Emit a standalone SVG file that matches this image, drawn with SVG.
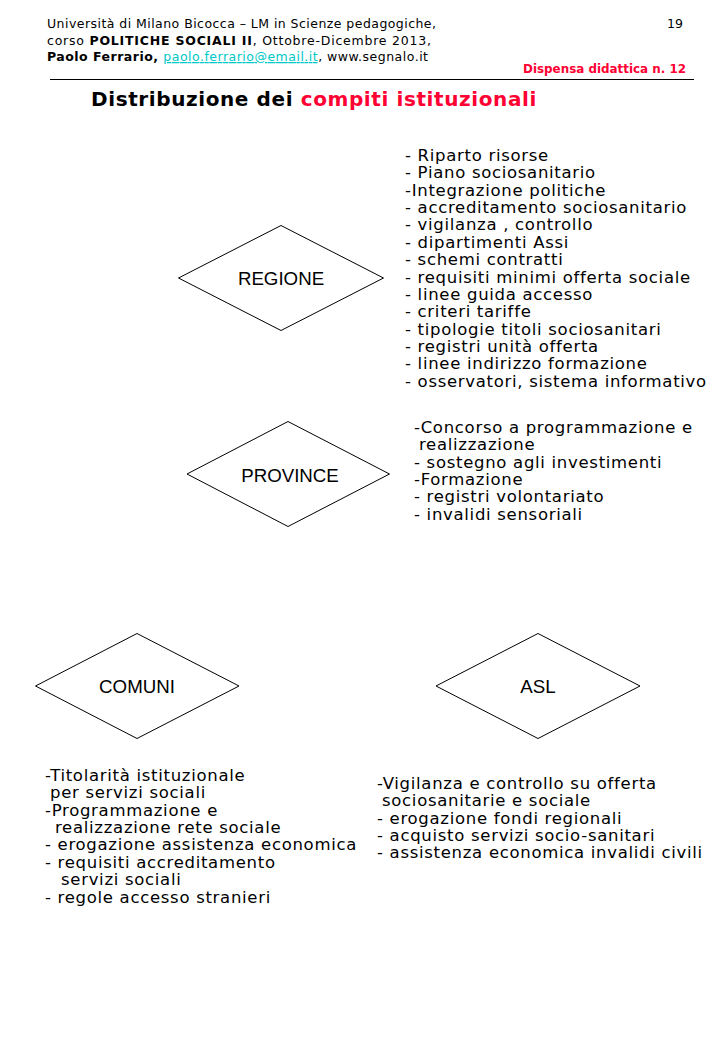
<svg xmlns="http://www.w3.org/2000/svg" width="720" height="1040" viewBox="0 0 720 1040">
<style>
.hd{font-family:"DejaVu Sans",Verdana,sans-serif;font-size:12.5px;fill:#000}
.b{font-weight:bold}
.red{fill:#ff0033}
.lnk{fill:#00c8c8;text-decoration:underline}
.ttl{font-family:"DejaVu Sans",Verdana,sans-serif;font-size:20px;font-weight:bold;fill:#000;letter-spacing:0.6px}
.lst{font-family:"DejaVu Sans",Verdana,sans-serif;font-size:16.5px;fill:#000;letter-spacing:0.7px}
.dm{fill:#fff;stroke:#000;stroke-width:1}
.lbl{font-family:"Liberation Sans",Arial,sans-serif;font-size:18.7px;fill:#000;text-anchor:middle}
</style>
<rect width="720" height="1040" fill="#fff"/>
<g id="header">
<text class="hd" x="47" y="28" textLength="389" lengthAdjust="spacing">Università di Milano Bicocca – LM in Scienze pedagogiche,</text>
<text class="hd" x="47" y="45" textLength="384" lengthAdjust="spacing">corso <tspan class="b">POLITICHE SOCIALI II</tspan>, Ottobre-Dicembre 2013,</text>
<text class="hd" x="47" y="61" textLength="381" lengthAdjust="spacing"><tspan class="b">Paolo Ferrario, </tspan><tspan class="lnk">paolo.ferrario@email.it</tspan>, www.segnalo.it</text>
<text class="hd" x="683" y="28" text-anchor="end">19</text>
<text class="hd b red" x="523" y="73" textLength="163" lengthAdjust="spacingAndGlyphs">Dispensa didattica n. 12</text>
<line x1="50" y1="79.5" x2="694" y2="79.5" stroke="#000" stroke-width="1.2"/>
</g>
<text class="ttl" x="91" y="106">Distribuzione dei <tspan class="red">compiti istituzionali</tspan></text>
<g id="connectors"></g>
<g id="regione">
<polygon class="dm" points="178.5,278 281,225.5 383.5,278 281,330.5"/>
<text class="lbl" x="281" y="285">REGIONE</text>
</g>
<g id="regione-list" class="lst">
<text x="405" y="161">- Riparto risorse</text>
<text x="405" y="178.4">- Piano sociosanitario</text>
<text x="405" y="195.7">-Integrazione politiche</text>
<text x="405" y="213.1">- accreditamento sociosanitario</text>
<text x="405" y="230.4">- vigilanza , controllo</text>
<text x="405" y="247.8">- dipartimenti Assi</text>
<text x="405" y="265.1">- schemi contratti</text>
<text x="405" y="282.5">- requisiti minimi offerta sociale</text>
<text x="405" y="299.8">- linee guida accesso</text>
<text x="405" y="317.2">- criteri tariffe</text>
<text x="405" y="334.5">- tipologie titoli sociosanitari</text>
<text x="405" y="351.9">- registri unità offerta</text>
<text x="405" y="369.2">- linee indirizzo formazione</text>
<text x="405" y="386.6">- osservatori, sistema informativo</text>
</g>
<g id="province">
<polygon class="dm" points="187,474 288,421.5 389.5,474 288,526.5"/>
<text class="lbl" x="290" y="482">PROVINCE</text>
</g>
<g id="province-list" class="lst">
<text x="414" y="433">-Concorso a programmazione e</text>
<text x="419" y="450.4">realizzazione</text>
<text x="414" y="467.7">- sostegno agli investimenti</text>
<text x="414" y="485.1">-Formazione</text>
<text x="414" y="502.4">- registri volontariato</text>
<text x="414" y="519.8">- invalidi sensoriali</text>
</g>
<g id="comuni">
<polygon class="dm" points="35.5,686 137,633.5 239,686 137,738.5"/>
<text class="lbl" x="137" y="693">COMUNI</text>
</g>
<g id="comuni-list" class="lst">
<text x="45" y="781">-Titolarità istituzionale</text>
<text x="50" y="798.4">per servizi sociali</text>
<text x="45" y="815.7">-Programmazione e</text>
<text x="55" y="833.1">realizzazione rete sociale</text>
<text x="45" y="850.4">- erogazione assistenza economica</text>
<text x="45" y="867.8">- requisiti accreditamento</text>
<text x="61" y="885.1">servizi sociali</text>
<text x="45" y="902.5">- regole accesso stranieri</text>
</g>
<g id="asl">
<polygon class="dm" points="436,686 538,633.5 640,686 538,738.5"/>
<text class="lbl" x="538" y="693">ASL</text>
</g>
<g id="asl-list" class="lst">
<text x="377" y="789">-Vigilanza e controllo su offerta</text>
<text x="382" y="806.4">sociosanitarie e sociale</text>
<text x="377" y="823.7">- erogazione fondi regionali</text>
<text x="377" y="841.1">- acquisto servizi socio-sanitari</text>
<text x="377" y="858.4">- assistenza economica invalidi civili</text>
</g>
</svg>
